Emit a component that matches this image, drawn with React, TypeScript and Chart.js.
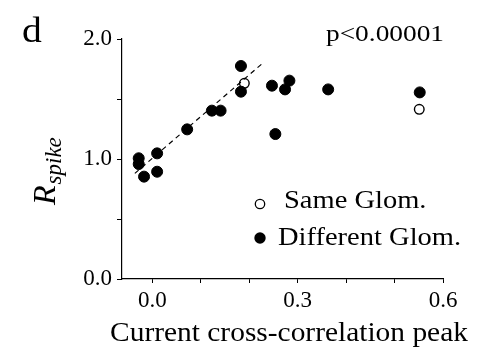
import React, { useEffect, useRef } from "react";
import { Chart, registerables } from "chart.js";

Chart.register(...registerables);

// ---- data ----
const diffX = [-0.028, -0.028, -0.017, 0.010, 0.010, 0.072, 0.123, 0.141, 0.183, 0.183, 0.247, 0.254, 0.274, 0.283, 0.363, 0.552];
const diffY = [1.006, 0.958, 0.853, 1.047, 0.894, 1.247, 1.403, 1.403, 1.775, 1.561, 1.611, 1.208, 1.580, 1.653, 1.580, 1.555];
const sameX = [0.190, 0.551];
const sameY = [1.631, 1.414];
const fitX = [-0.036, 0.226];
const fitY = [0.880, 1.792];
const xTicks = [0, 0.1, 0.2, 0.3, 0.4, 0.5, 0.6];
const xLabelTicks = [0, 0.3, 0.6];
const yTicks = [0, 0.5, 1, 1.5, 2];
const yLabelTicks = [0, 1, 2];
const LEGEND_SAME = "Same Glom.";
const LEGEND_DIFF = "Different Glom.";
const X_TITLE = "Current cross-correlation peak";
const Y_TITLE_MAIN = "R";
const Y_TITLE_SUB = "spike";
const P_TEXT = "p<0.00001";
const PANEL = "d";

const SERIF = '"Liberation Serif", "Times New Roman", serif';

function stretchText(ctx: CanvasRenderingContext2D, text: string, x: number, y: number, font: string, sx: number, align: "left" | "center" = "left") {
  ctx.save();
  ctx.font = font;
  ctx.textAlign = "left";
  ctx.textBaseline = "alphabetic";
  const w = ctx.measureText(text).width * sx;
  const x0 = align === "center" ? x - w / 2 : x;
  ctx.translate(x0, y);
  ctx.scale(sx, 1);
  ctx.fillText(text, 0, 0);
  ctx.restore();
}

const annotPlugin = {
  id: "annot",
  afterDraw(chart: any) {
    const ctx: CanvasRenderingContext2D = chart.ctx;
    ctx.save();
    ctx.fillStyle = "#000";
    // panel letter
    stretchText(ctx, PANEL, 22, 42, `36px ${SERIF}`, 1.1);
    // p value
    stretchText(ctx, P_TEXT, 326, 41, `24px ${SERIF}`, 1.14);
    // x title
    stretchText(ctx, X_TITLE, 289, 341, `27px ${SERIF}`, 1.09, "center");
    // y title (rotated)
    ctx.save();
    ctx.translate(55, 205);
    ctx.rotate(-Math.PI / 2);
    ctx.textBaseline = "alphabetic";
    ctx.font = `italic 32px ${SERIF}`;
    ctx.fillText(Y_TITLE_MAIN, 0, 0);
    const rw = ctx.measureText(Y_TITLE_MAIN).width;
    ctx.font = `italic 23px ${SERIF}`;
    ctx.fillText(Y_TITLE_SUB, rw + 1, 6);
    ctx.restore();
    // legend
    ctx.lineWidth = 1.3;
    ctx.strokeStyle = "#000";
    ctx.fillStyle = "#fff";
    ctx.beginPath();
    ctx.arc(260, 204, 4.7, 0, Math.PI * 2);
    ctx.fill();
    ctx.stroke();
    ctx.fillStyle = "#000";
    ctx.beginPath();
    ctx.arc(260, 238, 5.7, 0, Math.PI * 2);
    ctx.fill();
    stretchText(ctx, LEGEND_SAME, 284, 208, `25px ${SERIF}`, 1.14);
    stretchText(ctx, LEGEND_DIFF, 278, 245, `25px ${SERIF}`, 1.14);
    ctx.restore();
  },
};

export default function App() {
  const ref = useRef<HTMLCanvasElement | null>(null);
  useEffect(() => {
    if (!ref.current) return;
    const chart = new Chart(ref.current, {
      type: "scatter",
      data: {
        datasets: [
          {
            type: "line",
            label: "fit",
            data: fitX.map((x, i) => ({ x, y: fitY[i] })),
            borderColor: "#000",
            borderWidth: 1.2,
            borderDash: [5, 4],
            pointRadius: 0,
            fill: false,
          } as any,
          {
            label: LEGEND_DIFF,
            data: diffX.map((x, i) => ({ x, y: diffY[i] })),
            backgroundColor: "#000",
            borderColor: "#000",
            borderWidth: 1,
            pointRadius: 5.5,
          },
          {
            label: LEGEND_SAME,
            data: sameX.map((x, i) => ({ x, y: sameY[i] })),
            backgroundColor: "#fff",
            borderColor: "#000",
            borderWidth: 1.4,
            pointRadius: 4.8,
          },
        ],
      },
      plugins: [annotPlugin],
      options: {
        animation: false,
        responsive: false,
        layout: { padding: { top: 39, right: 48, left: 0, bottom: 0 } },
        plugins: { legend: { display: false }, tooltip: { enabled: false } },
        scales: {
          x: {
            type: "linear",
            min: -0.0625,
            max: 0.6,
            afterBuildTicks: (s: any) => {
              s.ticks = xTicks.map((v) => ({ value: v }));
            },
            afterFit: (s: any) => {
              s.height = 72;
            },
            grid: { drawOnChartArea: false, drawTicks: true, tickLength: 4, color: "#000", tickColor: "#000" },
            border: { display: true, color: "#000", width: 1.2 },
            ticks: {
              color: "#000",
              font: { family: SERIF, size: 23 },
              padding: 4,
              maxRotation: 0,
              autoSkip: false,
              callback: (v: any) => (xLabelTicks.some((t) => Math.abs(t - v) < 1e-6) ? Number(v).toFixed(1) : ""),
            },
          },
          y: {
            type: "linear",
            min: 0,
            max: 2,
            afterBuildTicks: (s: any) => {
              s.ticks = yTicks.map((v) => ({ value: v }));
            },
            afterFit: (s: any) => {
              s.width = 122;
            },
            grid: { drawOnChartArea: false, drawTicks: true, tickLength: 5, color: "#000", tickColor: "#000" },
            border: { display: true, color: "#000", width: 1.2 },
            ticks: {
              color: "#000",
              font: { family: SERIF, size: 23 },
              padding: 5,
              autoSkip: false,
              callback: (v: any) => (yLabelTicks.some((t) => Math.abs(t - v) < 1e-6) ? Number(v).toFixed(1) : ""),
            },
          },
        },
      },
    });
    return () => chart.destroy();
  }, []);
  return (
    <div style={{ position: "absolute", left: 0, top: 0, width: 491, height: 351, background: "#fff" }}>
      <canvas ref={ref} width={491} height={351} />
    </div>
  );
}
